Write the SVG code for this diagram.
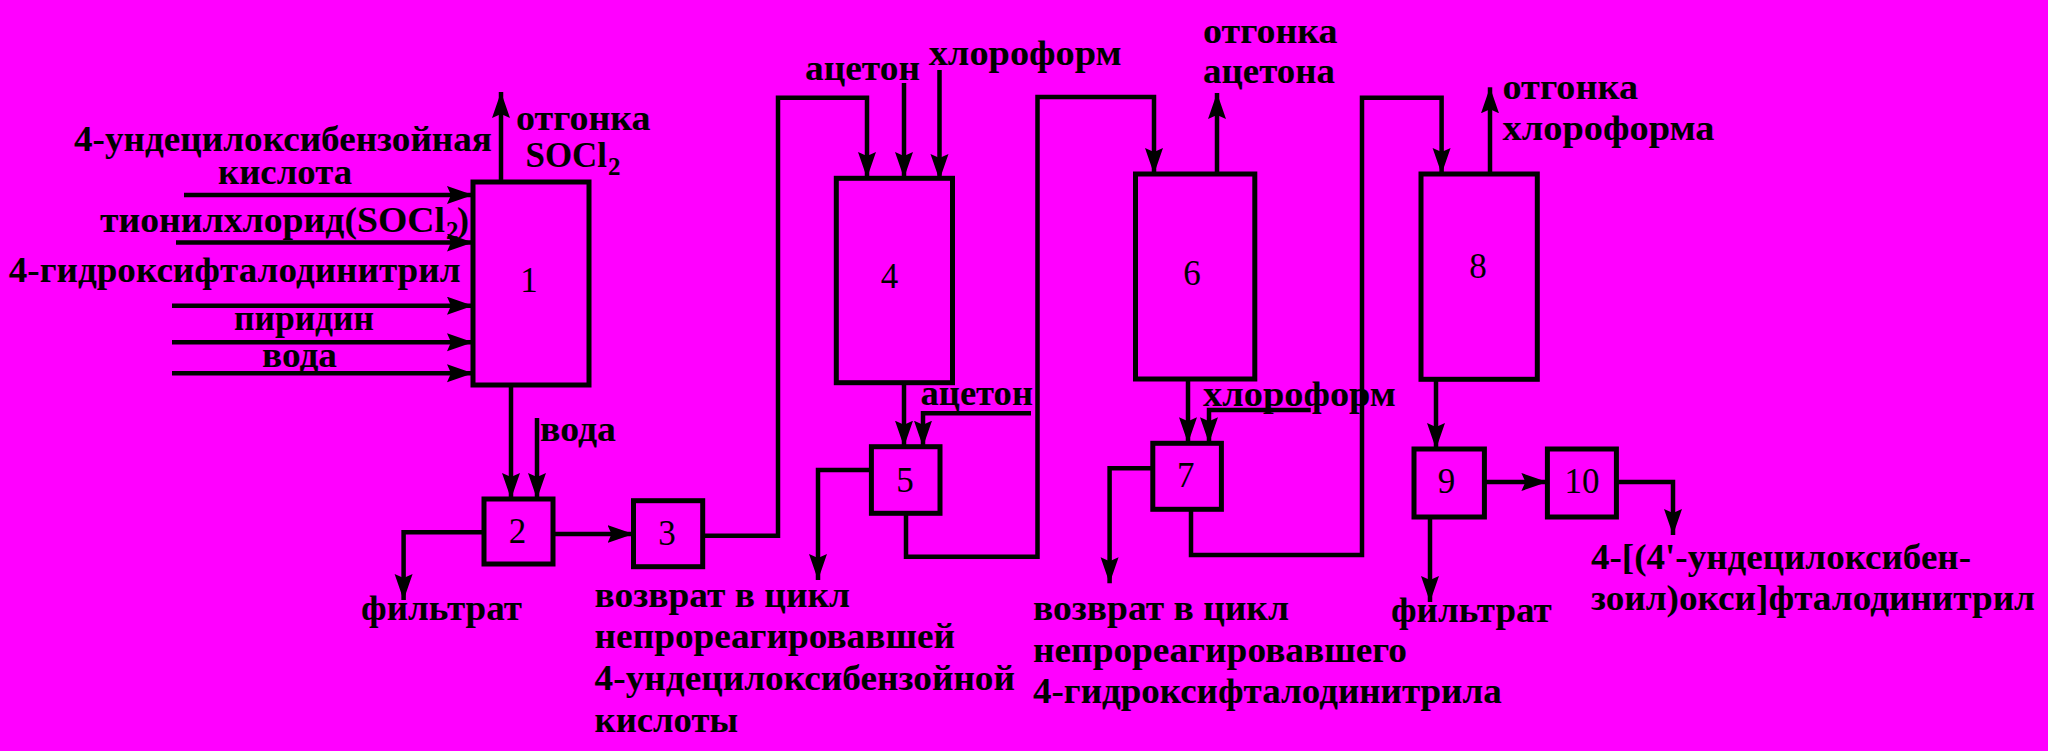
<svg xmlns="http://www.w3.org/2000/svg" width="2048" height="751" viewBox="0 0 2048 751">
<style>
.bg{fill:#ff00ff}
.box{fill:none;stroke:#000;stroke-width:5}
.ln{fill:none;stroke:#000;stroke-width:4.5}
.ar{marker-end:url(#ah)}
.t{font-family:"Liberation Serif","Times New Roman",serif;font-weight:bold;font-size:36px;fill:#000}
.s{font-family:"Liberation Serif","Times New Roman",serif;font-weight:bold;font-size:25px;fill:#000}
.n{font-family:"Liberation Serif","Times New Roman",serif;font-size:35px;fill:#000;text-anchor:middle}
</style>
<defs>
<marker id="ah" markerUnits="userSpaceOnUse" markerWidth="28" markerHeight="20" refX="26" refY="9" orient="auto">
<path d="M0,0 L26,9 L0,18 L4,9 Z" fill="#000"/>
</marker>
</defs>
<rect class="bg" x="0" y="0" width="2048" height="751"/>

<g id="connectors">
<path class="ln ar" d="M184,195 H473"/>
<path class="ln ar" d="M176,242.5 H473"/>
<path class="ln ar" d="M172,305.7 H473"/>
<path class="ln ar" d="M172,342.3 H473"/>
<path class="ln ar" d="M172,373.3 H473"/>
<path class="ln ar" d="M501,182 V92"/>
<path class="ln ar" d="M511,385 V499"/>
<path class="ln ar" d="M537,418 V499"/>
<path class="ln ar" d="M484,532.3 H403.6 V600"/>
<path class="ln ar" d="M553,534 H633.5"/>
<path class="ln ar" d="M702.7,535.7 H778 V97.7 H867 V178"/>
<path class="ln ar" d="M904,83 V178"/>
<path class="ln ar" d="M939.5,70 V180"/>
<path class="ln ar" d="M904,383 V446.7"/>
<path class="ln ar" d="M1031,413.3 H923 V446.7"/>
<path class="ln ar" d="M871,470 H818 V580"/>
<path class="ln ar" d="M906,513.3 V556.7 H1037.5 V97 H1154 V174"/>
<path class="ln ar" d="M1217,174 V93"/>
<path class="ln ar" d="M1188,379 V443.3"/>
<path class="ln ar" d="M1310.7,410 H1209 V443.3"/>
<path class="ln ar" d="M1153,468.3 H1109.6 V583.3"/>
<path class="ln ar" d="M1191,509.3 V555 H1362 V97.7 H1441.6 V174"/>
<path class="ln ar" d="M1490,174 V87.3"/>
<path class="ln ar" d="M1436,379.3 V449"/>
<path class="ln ar" d="M1484.4,482 H1547.4"/>
<path class="ln ar" d="M1430,517 V602"/>
<path class="ln ar" d="M1616.4,482 H1673 V535"/>
</g>

<g id="node1">
<rect class="box" x="473" y="182" width="116" height="203"/>
<text class="n" x="529" y="291.7">1</text>
</g>
<g id="node2">
<rect class="box" x="484" y="499" width="69" height="65"/>
<text class="n" x="517.4" y="543.3">2</text>
</g>
<g id="node3">
<rect class="box" x="633.5" y="500.7" width="69.2" height="66"/>
<text class="n" x="667" y="545">3</text>
</g>
<g id="node4">
<rect class="box" x="836.3" y="178.3" width="116.2" height="204.4"/>
<text class="n" x="889.6" y="288.3">4</text>
</g>
<g id="node5">
<rect class="box" x="871.4" y="446.7" width="68.6" height="66.6"/>
<text class="n" x="905" y="491.7">5</text>
</g>
<g id="node6">
<rect class="box" x="1135.5" y="174" width="119.3" height="205"/>
<text class="n" x="1192" y="285">6</text>
</g>
<g id="node7">
<rect class="box" x="1152.8" y="443.3" width="68.6" height="66"/>
<text class="n" x="1185.7" y="486.7">7</text>
</g>
<g id="node8">
<rect class="box" x="1421" y="174" width="116.3" height="205.3"/>
<text class="n" x="1478" y="278.3">8</text>
</g>
<g id="node9">
<rect class="box" x="1414" y="449" width="70.4" height="68"/>
<text class="n" x="1446.4" y="493.3">9</text>
</g>
<g id="node10">
<rect class="box" x="1547.4" y="449" width="69" height="68"/>
<text class="n" x="1582" y="492.7">10</text>
</g>

<g id="labels">
<text class="t" x="516" y="130" textLength="134.6" lengthAdjust="spacingAndGlyphs">отгонка</text>
<text class="t" x="525.6" y="167" textLength="81.4" lengthAdjust="spacingAndGlyphs">SOCl</text>
<text class="s" x="608" y="175">2</text>
<text class="t" x="74" y="151" textLength="418" lengthAdjust="spacingAndGlyphs">4-ундецилоксибензойная</text>
<text class="t" x="218" y="183.5" textLength="134" lengthAdjust="spacingAndGlyphs">кислота</text>
<text class="t" x="100" y="232" textLength="345" lengthAdjust="spacingAndGlyphs">тионилхлорид(SOCl</text>
<text class="s" x="446" y="239">2</text>
<text class="t" x="457" y="232">)</text>
<text class="t" x="8.7" y="281.7" textLength="451.8" lengthAdjust="spacingAndGlyphs">4-гидроксифталодинитрил</text>
<text class="t" x="234" y="330" textLength="140" lengthAdjust="spacingAndGlyphs">пиридин</text>
<text class="t" x="262" y="367" textLength="75" lengthAdjust="spacingAndGlyphs">вода</text>
<text class="t" x="540" y="441" textLength="76" lengthAdjust="spacingAndGlyphs">вода</text>
<text class="t" x="361" y="620" textLength="161" lengthAdjust="spacingAndGlyphs">фильтрат</text>
<text class="t" x="805" y="80" textLength="115" lengthAdjust="spacingAndGlyphs">ацетон</text>
<text class="t" x="928.7" y="65" textLength="193" lengthAdjust="spacingAndGlyphs">хлороформ</text>
<text class="t" x="920.5" y="405" textLength="112.5" lengthAdjust="spacingAndGlyphs">ацетон</text>
<text class="t" x="594.6" y="606.7" textLength="255.4" lengthAdjust="spacingAndGlyphs">возврат в цикл</text>
<text class="t" x="594.6" y="648.3" textLength="360.4" lengthAdjust="spacingAndGlyphs">непрореагировавшей</text>
<text class="t" x="594.6" y="690" textLength="420.4" lengthAdjust="spacingAndGlyphs">4-ундецилоксибензойной</text>
<text class="t" x="594.6" y="731.7" textLength="143.4" lengthAdjust="spacingAndGlyphs">кислоты</text>
<text class="t" x="1203" y="43.3" textLength="134.6" lengthAdjust="spacingAndGlyphs">отгонка</text>
<text class="t" x="1203" y="83.3" textLength="132" lengthAdjust="spacingAndGlyphs">ацетона</text>
<text class="t" x="1203" y="405.5" textLength="193" lengthAdjust="spacingAndGlyphs">хлороформ</text>
<text class="t" x="1033" y="620" textLength="256" lengthAdjust="spacingAndGlyphs">возврат в цикл</text>
<text class="t" x="1033" y="661.7" textLength="374" lengthAdjust="spacingAndGlyphs">непрореагировавшего</text>
<text class="t" x="1033" y="703.3" textLength="468.7" lengthAdjust="spacingAndGlyphs">4-гидроксифталодинитрила</text>
<text class="t" x="1502.5" y="99.3" textLength="135.5" lengthAdjust="spacingAndGlyphs">отгонка</text>
<text class="t" x="1502.5" y="140" textLength="212" lengthAdjust="spacingAndGlyphs">хлороформа</text>
<text class="t" x="1391" y="621.7" textLength="160.7" lengthAdjust="spacingAndGlyphs">фильтрат</text>
<text class="t" x="1591" y="568.5" textLength="380" lengthAdjust="spacingAndGlyphs">4-[(4'-ундецилоксибен-</text>
<text class="t" x="1591" y="610" textLength="444" lengthAdjust="spacingAndGlyphs">зоил)окси]фталодинитрил</text>
</g>
</svg>
